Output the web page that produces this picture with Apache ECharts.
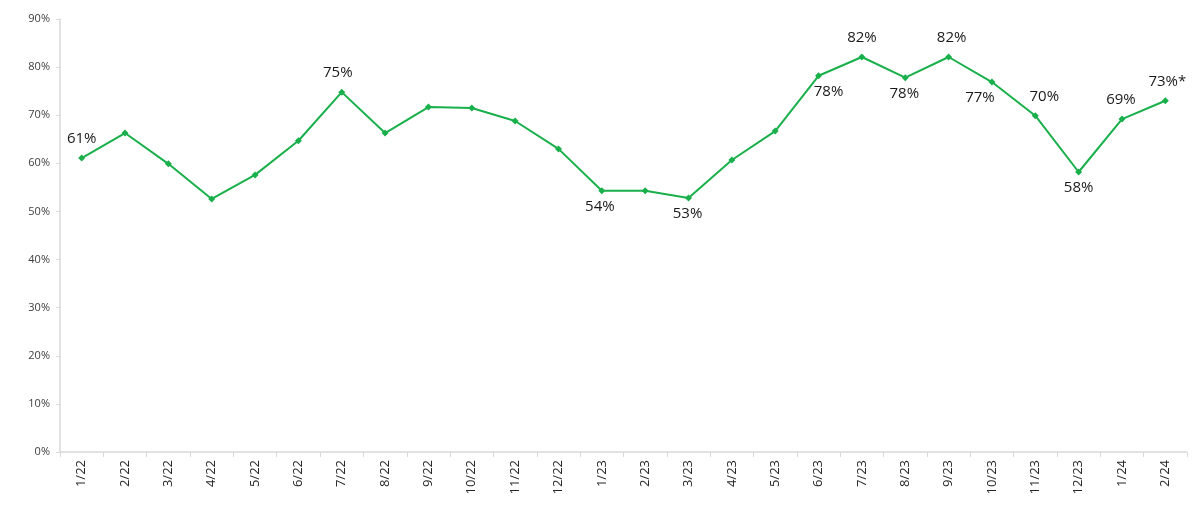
<!DOCTYPE html>
<html>
<head>
<meta charset="utf-8">
<script src="https://cdn.jsdelivr.net/npm/echarts@6/dist/echarts.min.js"></script>
<style>
  html, body { margin: 0; padding: 0; background: #fff; }
  #chart { width: 1200px; height: 514px; }
</style>
</head>
<body>
<div id="chart"></div>
<script>
// 月份类目
const months = ['1/22', '2/22', '3/22', '4/22', '5/22', '6/22', '7/22', '8/22', '9/22', '10/22', '11/22', '12/22',
  '1/23', '2/23', '3/23', '4/23', '5/23', '6/23', '7/23', '8/23', '9/23', '10/23', '11/23', '12/23', '1/24', '2/24']
// 百分比数值
const rates = [61.1, 66.3, 59.9, 52.6, 57.6, 64.7, 74.8, 66.3, 71.7, 71.5, 68.8, 63.0,
  54.3, 54.3, 52.8, 60.7, 66.7, 78.2, 82.1, 77.8, 82.1, 76.9, 69.9, 58.2, 69.2, 73.0]
// 数据标签文字，空字符串表示不显示
const pointLabels = ['61%', '', '', '', '', '', '75%', '', '', '', '', '',
  '54%', '', '53%', '', '', '78%', '82%', '78%', '82%', '77%', '70%', '58%', '69%', '73%*']
// y轴刻度
const yTicks = [0, 10, 20, 30, 40, 50, 60, 70, 80, 90]

const chart = echarts.init(document.getElementById('chart'))

// 标签放在点的上方还是下方，以及左右偏移
const labelPlace = {
  0: ['top', 0], 6: ['top', -4], 12: ['bottom', -2], 14: ['bottom', -1],
  17: ['bottom', 10], 18: ['top', 0], 19: ['bottom', -1], 20: ['top', 3],
  21: ['bottom', -12], 22: ['top', 9], 23: ['bottom', 0], 24: ['top', -1], 25: ['top', 2]
}

const seriesData = rates.map((v, i) => {
  const item = { value: v }
  if (pointLabels[i]) {
    const p = labelPlace[i] || ['top', 0]
    item.label = {
      show: true,
      position: p[0],
      distance: p[0] === 'top' ? 8 : 5,
      offset: [p[1], 0],
      formatter: pointLabels[i]
    }
  }
  return item
})

const option = {
  animation: false,
  backgroundColor: '#fff',
  grid: { left: 60, right: 13, top: 19, bottom: 62 },
  xAxis: {
    type: 'category',
    data: months,
    boundaryGap: true,
    axisLine: { lineStyle: { color: '#d9d9d9', width: 1.5 } },
    axisTick: { show: true, length: 5, interval: 0, lineStyle: { color: '#d9d9d9' } },
    axisLabel: {
      rotate: 90,
      interval: 0,
      margin: 8,
      fontFamily: 'Open Sans',
      fontSize: 13,
      color: '#262626'
    }
  },
  yAxis: {
    type: 'value',
    min: yTicks[0],
    max: yTicks[yTicks.length - 1],
    interval: 10,
    splitLine: { show: false },
    axisLine: { show: true, lineStyle: { color: '#d9d9d9', width: 1.5 } },
    axisTick: { show: true, length: 4, lineStyle: { color: '#d9d9d9' } },
    axisLabel: {
      formatter: '{value}%',
      margin: 10,
      fontFamily: 'Open Sans',
      fontSize: 11,
      color: '#404040'
    }
  },
  series: [{
    type: 'line',
    data: seriesData,
    symbol: 'diamond',
    symbolSize: 7,
    lineStyle: { color: '#19b04b', width: 2 },
    itemStyle: { color: '#19b04b' },
    label: {
      show: false,
      fontFamily: 'Open Sans',
      fontSize: 15,
      color: '#1a1a1a'
    }
  }]
}
chart.setOption(option)
</script>
</body>
</html>
